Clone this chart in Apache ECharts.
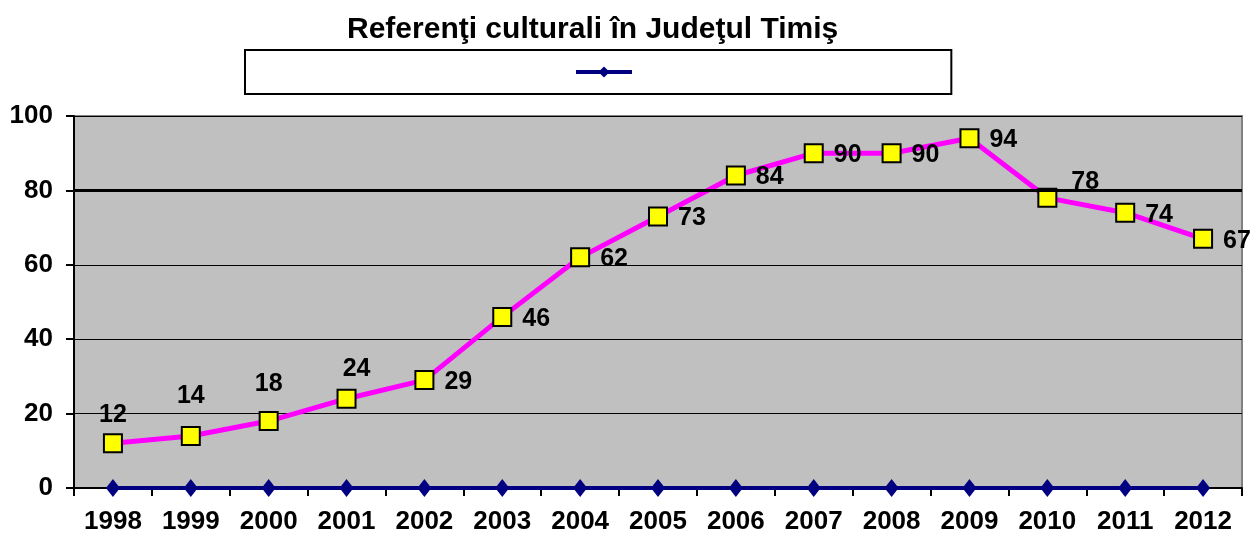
<!DOCTYPE html>
<html>
<head>
<meta charset="utf-8">
<script src="https://cdn.jsdelivr.net/npm/echarts@6/dist/echarts.min.js"></script>
<style>
html, body { margin: 0; padding: 0; background: #fff; }
#chartmain { width: 1256px; height: 535px; }
</style>
</head>
<body>
<div id="chartmain"></div>
<script>
var years = ['1998', '1999', '2000', '2001', '2002', '2003', '2004', '2005', '2006', '2007', '2008', '2009', '2010', '2011', '2012'];
var referenti = [12, 14, 18, 24, 29, 46, 62, 73, 84, 90, 90, 94, 78, 74, 67];
var baseline = [0, 0, 0, 0, 0, 0, 0, 0, 0, 0, 0, 0, 0, 0, 0];
var yTicks = { min: 0, max: 100, step: 20 };

var font = 'Liberation Sans, Arial, sans-serif';

// labels that don't sit to the right of their marker
var labelSpots = {
	0: { position: 'top', distance: 8 },
	1: { position: 'top', distance: 19 },
	2: { position: 'top', distance: 16 },
	3: { position: 'top', distance: 7, offset: [10, 0] },
	12: { position: 'right', distance: 10, offset: [4, -16] }
};

var refData = referenti.map(function(v, i) {
	var item = { value: v };
	if (labelSpots[i]) item.label = labelSpots[i];
	return item;
});

var option = {
	animation: false,
	title: {
		text: 'Referenţi culturali în Judeţul Timiş',
		left: 342,
		top: 10,
		textStyle: { fontFamily: font, fontSize: 30, fontWeight: 'bold', color: '#000' }
	},
	legend: {
		data: [' '],
		left: 245,
		top: 50,
		padding: [16, 311, 16, 329],
		itemWidth: 56,
		itemHeight: 14,
		borderColor: '#000',
		borderWidth: 2,
		lineStyle: { width: 4 },
		textStyle: { fontSize: 12 }
	},
	grid: {
		left: 74,
		right: 14,
		top: 116,
		bottom: 45,
		show: true,
		backgroundColor: '#C0C0C0',
		borderColor: '#808080',
		borderWidth: 2
	},
	xAxis: {
		type: 'category',
		data: years,
		boundaryGap: true,
		axisLine: { lineStyle: { color: '#000', width: 2 } },
		axisTick: { show: true, length: 8, interval: 0, lineStyle: { color: '#000', width: 2 } },
		axisLabel: { interval: 0, margin: 21, color: '#000', fontFamily: font, fontSize: 26, fontWeight: 'bold' },
		splitLine: { show: false }
	},
	yAxis: {
		type: 'value',
		min: yTicks.min,
		max: yTicks.max,
		interval: yTicks.step,
		axisLine: { show: true, lineStyle: { color: '#000', width: 2 } },
		axisTick: { show: true, length: 8, lineStyle: { color: '#000', width: 2 } },
		axisLabel: { margin: 21, color: '#000', fontFamily: font, fontSize: 26, fontWeight: 'bold' },
		splitLine: { show: true, lineStyle: { color: '#000', width: 1 } }
	},
	series: [{
		name: ' ',
		type: 'line',
		data: baseline,
		z: 2,
		clip: false,
		symbol: 'diamond',
		symbolSize: [14, 18],
		lineStyle: { color: '#000080', width: 4 },
		itemStyle: { color: '#000080' },
		markLine: {
			silent: true,
			symbol: 'none',
			label: { show: false },
			lineStyle: { color: '#000', width: 3, type: 'solid' },
			data: [{ yAxis: 80 }]
		}
	}, {
		name: 'Referenţi culturali',
		type: 'line',
		data: refData,
		z: 3,
		clip: false,
		symbol: 'rect',
		symbolSize: 18,
		lineStyle: { color: '#FF00FF', width: 5 },
		itemStyle: { color: '#FFFF00', borderColor: '#000', borderWidth: 2 },
		label: {
			show: true,
			position: 'right',
			distance: 10,
			offset: [0, 2],
			color: '#000',
			fontFamily: font,
			fontSize: 25,
			fontWeight: 'bold'
		}
	}]
};

var myChart = echarts.init(document.getElementById('chartmain'));
myChart.setOption(option);
</script>
</body>
</html>
